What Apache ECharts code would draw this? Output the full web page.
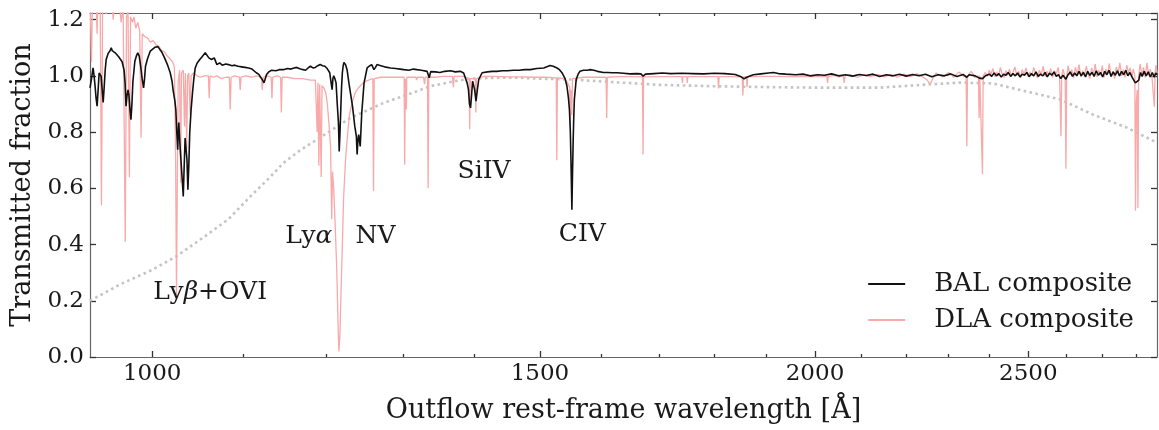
<!DOCTYPE html>
<html><head><meta charset="utf-8">
<script src="https://cdn.jsdelivr.net/npm/echarts@6/dist/echarts.min.js"></script>
<style>html,body{margin:0;padding:0;background:#fff}#c{width:1159px;height:430px}</style>
</head><body><div id="c"></div>
<script>
// ---------- data (wavelength in Angstrom, transmitted fraction) ----------
const balComposite = [
[937,0.957],[938.5,0.99],[940,1.028],[941,1.0],[942,0.963],[943,0.92],[944,0.892],[945,0.95],[946,1.01],[947,1.016],[948,0.998],[949,0.95],[950,0.905],[951,0.96],[952,1.02],[953,1.058],[955,1.08],[957,1.09],[958,1.10],[959,1.09],[960,1.095],[962,1.082],[964,1.075],[965.5,1.068],[967,1.064],[969,1.05],[970,1.046],[971,1.02],[972,0.975],[973,0.892],[974,0.93],[975,0.95],[976,0.93],[977,0.88],[978,0.844],[979,0.90],[980,0.98],[982,1.052],[983.5,1.07],[985,1.082],[986.5,1.07],[988,1.034],[989.5,0.99],[991,0.957],[992,0.99],[993,1.034],[995,1.06],[998,1.088],[1000,1.095],[1003,1.102],[1005,1.098],[1006,1.104],[1008,1.094],[1010,1.085],[1013,1.064],[1016,1.04],[1019,1.011],[1021,0.98],[1022,0.951],[1024,0.91],[1025,0.88],[1026,0.80],[1027,0.737],[1027.6,0.80],[1028.2,0.834],[1029,0.78],[1030,0.727],[1031.5,0.65],[1033,0.571],[1034,0.68],[1035,0.779],[1036,0.74],[1037,0.702],[1038,0.595],[1039,0.68],[1040,0.797],[1041.5,0.88],[1043,0.939],[1044.5,0.99],[1046,1.028],[1048,1.045],[1051,1.058],[1054,1.07],[1057,1.082],[1059,1.075],[1061,1.064],[1064,1.058],[1067,1.064],[1070,1.04],[1073,1.046],[1076,1.038],[1080,1.042],[1083,1.04],[1087,1.036],[1090,1.038],[1094,1.034],[1098,1.032],[1102,1.03],[1106,1.028],[1110,1.024],[1115,1.011],[1118,1.005],[1120,0.995],[1122,0.987],[1123,0.99],[1124,0.975],[1125.5,0.99],[1127,1.005],[1130,1.015],[1133,1.02],[1138,1.018],[1142,1.022],[1147,1.022],[1152,1.026],[1156,1.024],[1160,1.028],[1163,1.03],[1167,1.025],[1171,1.022],[1174,1.02],[1177,1.028],[1180,1.034],[1183,1.028],[1186,1.03],[1189,1.036],[1192,1.04],[1195,1.036],[1198,1.034],[1201,1.025],[1204,1.011],[1206,0.97],[1207,0.951],[1208,0.99],[1209,1.0],[1210.5,0.99],[1212,0.975],[1213.5,0.90],[1215,0.833],[1216,0.731],[1217,0.80],[1218,0.88],[1219,0.96],[1220,1.011],[1221,1.035],[1222,1.048],[1224,1.04],[1226,1.022],[1229,0.963],[1233,0.892],[1236,0.82],[1238,0.785],[1239,0.72],[1240,0.77],[1241,0.791],[1242,0.77],[1243,0.749],[1245,0.868],[1248,0.975],[1252,1.028],[1255,1.035],[1258,1.04],[1261,1.022],[1263,1.03],[1265,1.04],[1270,1.036],[1275,1.032],[1283,1.028],[1290,1.026],[1296,1.024],[1301,1.022],[1308,1.02],[1314,1.024],[1319,1.022],[1325,1.02],[1333,1.016],[1336,0.993],[1338,1.015],[1345,1.014],[1351,1.012],[1358,1.016],[1366,1.018],[1373,1.014],[1380,1.016],[1385,1.01],[1387,1.005],[1390,0.975],[1392,0.951],[1393.5,0.90],[1395,0.886],[1396.5,0.93],[1398,0.981],[1399.5,0.975],[1401,0.951],[1403,0.91],[1405,0.95],[1407,0.987],[1412,1.011],[1420,1.014],[1427,1.016],[1434,1.016],[1442,1.018],[1450,1.018],[1459,1.02],[1468,1.02],[1476,1.022],[1485,1.022],[1495,1.026],[1506,1.028],[1512,1.033],[1516,1.037],[1521,1.034],[1527,1.028],[1531,1.022],[1535,1.011],[1540,0.99],[1543,0.963],[1545.5,0.92],[1547,0.88],[1548.5,0.80],[1549.5,0.70],[1551,0.524],[1552,0.65],[1553,0.761],[1554,0.85],[1555,0.916],[1558,0.987],[1561,1.005],[1564,1.016],[1570,1.02],[1576,1.02],[1581,1.022],[1587,1.02],[1593,1.016],[1603,1.012],[1610,1.012],[1618,1.011],[1626,1.011],[1637,1.009],[1648,1.007],[1660,1.008],[1667,1.007],[1671,0.999],[1675,1.006],[1690,1.008],[1705,1.01],[1720,1.008],[1740,1.009],[1760,1.008],[1780,1.007],[1800,1.009],[1820,1.008],[1840,1.005],[1850,0.998],[1857,0.989],[1862,0.995],[1866,0.998],[1875,1.004],[1890,1.007],[1905,1.01],[1915,1.012],[1925,1.008],[1940,1.006],[1960,1.004],[1975,1.006],[1990,1.0],[2005,1.004],[2020,1.002],[2035,1.007],[2050,1.0],[2065,1.004],[2080,0.999],[2095,1.005],[2110,1.001],[2125,1.006],[2140,0.998],[2155,1.004],[2170,1.0],[2185,1.006],[2200,0.999],[2215,1.005],[2230,1.0],[2245,1.006],[2260,0.997],[2275,1.004],[2290,1.0],[2305,1.007],[2320,0.998],[2335,1.005],[2344,0.995],[2350,1.004],[2365,1.0],[2375,0.992],[2383,0.99],[2390,1.0],[2400,1.006],[2406,0.998],[2412,1.01],[2418,1.0],[2424,1.008],[2430,0.996],[2436,1.006],[2442,1.002],[2448,1.012],[2454,0.998],[2460,1.008],[2466,1.0],[2472,1.01],[2478,0.996],[2484,1.006],[2490,1.002],[2496,1.012],[2502,0.997],[2508,1.008],[2514,1.0],[2520,1.014],[2526,0.998],[2532,1.006],[2538,1.0],[2544,1.012],[2550,0.996],[2556,1.01],[2562,1.002],[2568,1.014],[2574,0.998],[2580,1.004],[2586,0.99],[2592,1.002],[2600,0.988],[2606,1.004],[2612,1.014],[2618,0.998],[2624,1.01],[2630,1.0],[2636,1.016],[2642,1.0],[2648,1.012],[2654,0.996],[2660,1.016],[2666,1.002],[2672,1.012],[2678,0.998],[2684,1.018],[2690,1.002],[2696,1.012],[2702,0.996],[2708,1.016],[2714,1.004],[2720,1.02],[2726,0.998],[2732,1.014],[2738,1.002],[2744,1.018],[2750,1.0],[2756,1.016],[2762,1.004],[2768,1.02],[2774,1.0],[2780,1.012],[2786,0.996],[2790,0.99],[2796,0.975],[2801,0.97],[2806,0.985],[2811,1.012],[2816,0.998],[2822,1.016],[2828,1.0],[2834,1.014],[2840,0.996],[2846,1.012],[2852,0.995],[2856,1.01],[2860,1.004]
];
const dlaComposite = [
[937,1.28],[938.5,1.05],[939.5,1.30],[941,1.24],[942.5,1.32],[944,1.15],[945,1.30],[947,1.27],[948.3,0.54],[949.5,1.29],[951,1.33],[953,1.22],[954.5,1.30],[956,1.26],[958,1.31],[960,1.20],[962,1.28],[964,1.23],[966,1.27],[968,1.19],[970,1.25],[972.2,0.41],[973.5,1.21],[975,1.23],[976.4,0.64],[977.6,1.21],[979.5,1.19],[981,1.21],[983,1.17],[985,1.19],[987,1.16],[988.4,0.78],[989.6,1.15],[992,1.14],[995,1.135],[998,1.12],[1001,1.125],[1004,1.11],[1007,1.105],[1010,1.09],[1013,1.085],[1016,1.07],[1019,1.06],[1021.5,1.05],[1023.5,1.03],[1024.8,0.70],[1025.7,0.22],[1026.6,0.62],[1027.5,0.98],[1029,1.02],[1030.2,0.62],[1031,1.01],[1033,1.02],[1034.3,0.82],[1035.3,1.01],[1036.7,0.74],[1037.7,1.0],[1039,1.01],[1040.5,0.86],[1041.5,1.0],[1044,1.01],[1048,1.0],[1052,0.995],[1056,1.0],[1060.5,1.0],[1061.4,0.92],[1062.3,1.0],[1066,0.995],[1070,1.0],[1075,0.99],[1080,0.995],[1084,0.995],[1085,0.88],[1086,0.995],[1090,1.0],[1095.5,0.995],[1096.4,0.95],[1097.3,0.995],[1103,1.0],[1110,0.995],[1115,1.0],[1121,0.995],[1122,0.95],[1123,0.995],[1128,1.0],[1132.5,0.995],[1133.4,0.92],[1134.3,0.995],[1140,1.0],[1143.7,0.995],[1144.6,0.87],[1145.5,0.995],[1152,0.995],[1160,0.99],[1170,0.99],[1180,0.985],[1186,0.985],[1187.5,0.98],[1188.3,0.80],[1189.2,0.975],[1190.4,0.68],[1191.4,0.97],[1192.4,0.97],[1193.3,0.64],[1194.3,0.965],[1197,0.955],[1199,0.94],[1201,0.90],[1203,0.83],[1205,0.75],[1206.5,0.49],[1207.5,0.66],[1209,0.60],[1211,0.46],[1213,0.30],[1214.5,0.12],[1215.6,0.02],[1216.8,0.07],[1218,0.20],[1220,0.40],[1221.5,0.56],[1224,0.70],[1226,0.77],[1229,0.86],[1233,0.91],[1236.5,0.94],[1240,0.955],[1245,0.97],[1250,0.98],[1256,0.987],[1259.5,0.99],[1260.4,0.59],[1261.3,0.99],[1270,0.995],[1285,0.995],[1295,0.995],[1301.4,0.995],[1302.2,0.684],[1303,0.99],[1304,0.99],[1304.5,0.88],[1305,0.995],[1310,0.995],[1317.5,0.995],[1318.5,0.985],[1319.5,0.995],[1328,0.995],[1329.5,0.97],[1330.5,0.995],[1333.6,0.995],[1334.5,0.60],[1335.4,0.995],[1345,0.995],[1355,0.998],[1369,0.998],[1370.2,0.96],[1371.4,0.998],[1385,0.998],[1393,0.99],[1393.8,0.81],[1394.6,0.99],[1402,0.99],[1402.8,0.87],[1403.6,0.99],[1415,0.998],[1430,0.998],[1450,0.996],[1470,0.996],[1490,0.995],[1510,0.995],[1525.8,0.993],[1526.7,0.70],[1527.6,0.993],[1540,0.99],[1547.5,0.96],[1548.2,0.82],[1549.2,0.95],[1550.8,0.86],[1552,0.99],[1570,0.995],[1590,0.995],[1607.5,0.995],[1608.5,0.85],[1609.5,0.995],[1630,0.997],[1650,0.997],[1669.8,0.996],[1670.8,0.72],[1671.8,0.996],[1700,0.997],[1720,0.997],[1740,0.997],[1741,0.975],[1742,0.997],[1749,0.997],[1750,0.975],[1751,0.997],[1780,0.997],[1806.8,0.997],[1808,0.955],[1809.2,0.997],[1830,0.997],[1853.5,0.996],[1854.7,0.93],[1855.9,0.996],[1861.7,0.996],[1862.8,0.96],[1864,0.996],[1890,0.998],[1920,0.998],[1950,0.997],[1980,0.998],[2010,0.997],[2025,0.997],[2026.4,0.975],[2028,0.997],[2040,1.002],[2050,0.996],[2060,1.0],[2062,0.975],[2064,1.0],[2075,1.004],[2090,0.995],[2105,1.003],[2120,0.997],[2135,1.005],[2150,0.996],[2165,1.004],[2180,0.995],[2195,1.006],[2210,0.997],[2225,1.008],[2240,0.995],[2249,0.985],[2256,0.97],[2262,0.99],[2270,1.01],[2285,0.996],[2300,1.012],[2312,0.995],[2325,1.014],[2337,0.998],[2342.6,0.998],[2344.2,0.75],[2345.8,1.0],[2355,1.016],[2365,0.994],[2372.8,1.0],[2374.5,0.85],[2376.2,1.0],[2381,1.0],[2382.8,0.65],[2384.6,1.0],[2390,1.012],[2395,0.998],[2400,1.02],[2404,1.004],[2409,1.026],[2414,0.996],[2418,1.014],[2423,1.0],[2428,1.03],[2432,1.008],[2437,0.994],[2442,1.018],[2446,1.002],[2451,1.024],[2456,0.998],[2460,1.012],[2465,1.032],[2470,1.0],[2475,1.016],[2480,0.993],[2484,1.022],[2489,1.006],[2494,1.028],[2499,0.997],[2504,1.014],[2509,1.0],[2514,1.03],[2519,1.008],[2524,0.992],[2529,1.02],[2534,1.004],[2539,1.034],[2544,0.998],[2549,1.016],[2554,1.002],[2559,1.026],[2564,0.994],[2569,1.018],[2574,1.006],[2579,1.03],[2583,0.995],[2584.8,0.995],[2586.7,0.785],[2588.6,0.995],[2592,1.024],[2596,1.004],[2598.2,0.99],[2600.2,0.67],[2602.2,0.99],[2606,1.036],[2611,1.002],[2616,1.022],[2621,0.992],[2626,1.03],[2631,1.006],[2636,1.04],[2641,0.996],[2646,1.018],[2651,1.0],[2656,1.034],[2661,1.008],[2666,0.99],[2671,1.028],[2676,1.004],[2681,1.042],[2686,0.996],[2691,1.02],[2696,1.002],[2701,1.036],[2706,0.994],[2711,1.024],[2716,1.008],[2721,1.044],[2726,0.998],[2731,1.016],[2736,0.99],[2741,1.032],[2746,1.006],[2751,1.046],[2756,1.0],[2761,1.022],[2766,0.994],[2771,1.038],[2776,1.01],[2781,1.028],[2786,0.996],[2790,1.024],[2794.5,1.0],[2796.4,0.52],[2798.5,0.9],[2801.5,0.95],[2803.5,0.53],[2805.5,1.0],[2810,1.042],[2815,1.0],[2820,1.03],[2825,0.994],[2830,1.046],[2835,1.004],[2840,1.024],[2845,0.996],[2850.2,1.0],[2852.1,0.89],[2854,1.0],[2857,1.038],[2860,1.01]
];
const transmissionModel = [
[937,0.20],[968,0.26],[1000,0.31],[1025,0.357],[1057,0.43],[1083,0.49],[1108,0.571],[1128,0.63],[1147,0.69],[1167,0.735],[1188,0.773],[1230,0.85],[1274,0.904],[1319,0.945],[1337,0.963],[1370,0.98],[1395,0.99],[1430,0.993],[1470,0.993],[1500,0.99],[1550,0.987],[1600,0.98],[1650,0.974],[1700,0.968],[1800,0.963],[1900,0.96],[2000,0.958],[2140,0.958],[2248,0.969],[2327,0.976],[2409,0.973],[2496,0.944],[2585,0.916],[2675,0.862],[2771,0.816],[2860,0.762]
];
const lineLabels = [
  {text:'{r|Ly}{i|β}{r|+OVI}', wave:1062.5, val:0.228},
  {text:'{r|Ly}{i|α}', wave:1178, val:0.428},
  {text:'{r|NV}', wave:1263, val:0.428},
  {text:'{r|SiIV}', wave:1415, val:0.66},
  {text:'{r|CIV}', wave:1568, val:0.435}
];
const seriesNames = ['BAL composite','DLA composite'];
const xMajorTicks = [1000,1500,2000,2500];
const xMinorTicks = [1100,1200,1300,1400,1600,1700,1800,1900,2100,2200,2300,2400,2600,2700,2800];
const xRange = [937, 2860];
const yRange = [0, 1.2235];
const yStep = 0.2;
const xTitle = 'Outflow rest-frame wavelength [Å]';
const yTitle = 'Transmitted fraction';

// ---------- chart ----------
const FONT = 'DejaVu Serif';
const AX = '#666';
const TXT = '#1a1a1a';
function xAxis(pos, ticks, len, withLabels, withLine) {
  return {
    type:'log', logBase:10, position:pos, min:xRange[0], max:xRange[1],
    axisLine:{show:withLine, onZero:false, lineStyle:{color:AX, width:1.2}},
    axisTick:{show:true, inside:true, length:len, customValues:ticks, lineStyle:{color:'#333', width:1.3}},
    axisLabel:{show:withLabels, customValues:ticks, margin:6, fontFamily:FONT, fontSize:23, color:TXT,
      formatter:v=>String(Math.round(v))},
    splitLine:{show:false}, minorTick:{show:false}, minorSplitLine:{show:false},
    name: withLabels ? xTitle : '', nameLocation:'middle', nameGap:40,
    nameTextStyle:{fontFamily:FONT, fontSize:27, color:TXT}
  };
}
function yAxis(pos, withLabels) {
  return {
    type:'value', position:pos, min:yRange[0], max:yRange[1], interval:yStep,
    axisLine:{show:true, onZero:false, lineStyle:{color:AX, width:1.2}},
    axisTick:{show:true, inside:true, length:6, lineStyle:{color:'#333', width:1.3}},
    axisLabel:{show:withLabels, showMaxLabel:false, margin:6, fontFamily:FONT, fontSize:23, color:TXT,
      formatter:v=>v.toFixed(1)},
    splitLine:{show:false},
    name: withLabels ? yTitle : '', nameLocation:'middle', nameGap:52,
    nameTextStyle:{fontFamily:FONT, fontSize:27, color:TXT}
  };
}
const chart = echarts.init(document.getElementById('c'), null, {renderer:'canvas'});
chart.setOption({
  animation:false,
  backgroundColor:'#fff',
  grid:{left:90, right:2, top:13, bottom:73, containLabel:false},
  xAxis:[
    xAxis('bottom', xMajorTicks, 6, true, true),
    xAxis('bottom', xMinorTicks, 3, false, false),
    xAxis('top', xMajorTicks, 6, false, true),
    xAxis('top', xMinorTicks, 3, false, false)
  ],
  yAxis:[ yAxis('left', true), yAxis('right', false) ],
  legend:{
    orient:'vertical', right:20, top:266, itemWidth:37, itemHeight:2, itemGap:10,
    data:[{name:seriesNames[0], icon:'rect'},{name:seriesNames[1], icon:'rect'}],
    textStyle:{fontFamily:FONT, fontSize:26, color:TXT, lineHeight:26, padding:[0,0,0,24]}
  },
  series:[
    {type:'line', name:'model', data:transmissionModel, showSymbol:false, symbol:'none',
      lineStyle:{color:'#c4c4c4', width:2.6, type:[2.6,3.4], cap:'butt'}, z:1, silent:true},
    {type:'line', name:seriesNames[1], data:dlaComposite, showSymbol:false, symbol:'none', color:'#f8a9a9',
      lineStyle:{color:'#f8a9a9', width:1.3}, z:2},
    {type:'line', name:seriesNames[0], data:balComposite, showSymbol:false, symbol:'none', color:'#111',
      lineStyle:{color:'#111', width:1.6}, z:3},
    {type:'scatter', name:'labels', symbolSize:2, itemStyle:{color:'rgba(255,255,255,0)'}, silent:true, z:5,
      data:lineLabels.map(d=>({value:[d.wave,d.val], text:d.text})),
      label:{show:true, position:'inside', color:TXT, textBorderWidth:0, textBorderColor:'transparent', opacity:1,
        formatter:p=>p.data.text,
        rich:{r:{fontFamily:FONT, fontSize:25, color:TXT, textBorderWidth:0},
              i:{fontFamily:FONT, fontStyle:'italic', fontSize:25, color:TXT, textBorderWidth:0}}}}
  ]
});
</script></body></html>
